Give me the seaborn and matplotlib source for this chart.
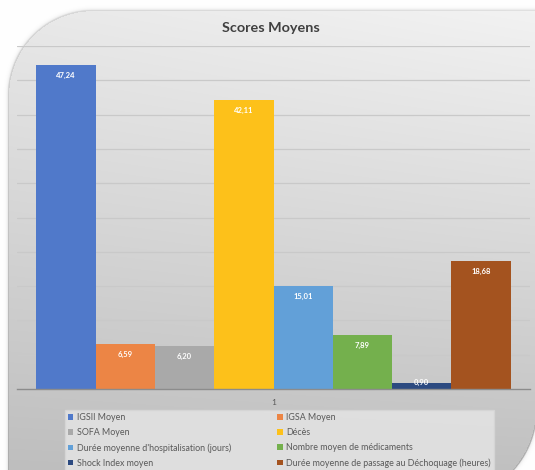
import numpy as np
import pandas as pd
import matplotlib
matplotlib.use("Agg")
import matplotlib.pyplot as plt
import seaborn as sns

series = [
    "IGSII Moyen",
    "IGSA Moyen",
    "SOFA Moyen",
    "Décès",
    "Durée moyenne d'hospitalisation (jours)",
    "Nombre moyen de médicaments",
    "Shock Index moyen",
    "Durée moyenne de passage au Déchoquage (heures)",
]
values = [47.24, 6.59, 6.20, 42.11, 15.01, 7.89, 0.90, 18.68]
labels = ["47,24", "6,59", "6,20", "42,11", "15,01", "7,89", "0,90", "18,68"]
category = ["1"] * len(series)
colors = ["#5079ca", "#ec8545", "#a9a9a9", "#fdc11a",
          "#62a0d8", "#74b04d", "#2c4a80", "#a4531f"]

df = pd.DataFrame({"cat": category, "serie": series, "val": values})

sns.set_theme(style="white")
plt.rcParams["font.family"] = ["Lato", "DejaVu Sans"]

W, H = 535, 470
fig = plt.figure(figsize=(W / 100, H / 100), dpi=100)
fig.patch.set_facecolor("white")

# Background panel: grey gradient, rounded top-left and bottom-right corners,
# thin edge and soft outer shadow
yy, xx = np.mgrid[0:H, 0:W].astype(float) + 0.5
left, top, right = 8.0, 10.0, 537.0
r1, r2 = 85.0, 90.0
cx1, cy1 = left + r1, top + r1
cx2, cy2 = right - r2, 410.0
sd = np.minimum.reduce([xx - left, yy - top, right - xx, (cy2 + r2) - yy])
tl = (xx < cx1) & (yy < cy1)
br = (xx > cx2) & (yy > cy2)
sd = np.where(tl, r1 - np.hypot(xx - cx1, yy - cy1), sd)
sd = np.where(br, r2 - np.hypot(xx - cx2, yy - cy2), sd)

grad = 0.955 - 0.17 * (yy / H) - 0.04 * (1 - xx / W) - 0.03 * (xx / W) * (yy / H)
inside = np.where(sd < 1.2, grad - 0.07, grad)
outside = 1 - 0.10 * np.exp(np.minimum(sd, 0) / 1.5)
t = np.clip(sd + 0.5, 0, 1)
shade = t * inside + (1 - t) * outside
rgb = np.dstack([shade, shade, shade])
fig.figimage(rgb, xo=0, yo=0, origin="upper", zorder=-10)

# Plot area
ax_l, ax_r = 17, 530
ax_b, ax_t = 389, 46
ax = fig.add_axes([ax_l / W, (H - ax_b) / H, (ax_r - ax_l) / W, (ax_b - ax_t) / H])
ax.set_facecolor("none")

sns.barplot(data=df, x="cat", y="val", hue="serie", hue_order=series,
            palette=colors, width=0.924, saturation=1, ax=ax,
            edgecolor="none", legend=True)

ax.set_ylim(0, 50)
ax.set_xlim(-0.5, 0.5)
ax.set_yticks(np.arange(0, 51, 5))
ax.yaxis.grid(True, color="#c9c9c9", linewidth=0.9)
ax.set_axisbelow(True)
ax.tick_params(axis="y", left=False, labelleft=False)
ax.tick_params(axis="x", bottom=False, labelsize=6, labelcolor="#595959", pad=1.5)
ax.set_xlabel("")
ax.set_ylabel("")
for s in ["top", "right", "left"]:
    ax.spines[s].set_visible(False)
ax.spines["bottom"].set_color("#8c8c8c")
ax.spines["bottom"].set_linewidth(1.0)

for cont, lab, v in zip(ax.containers, labels, values):
    pad = -2 if v < 3 else -10
    ax.bar_label(cont, labels=[lab], padding=pad, color="white",
                 fontsize=5.5, fontweight="bold", label_type="edge")

# Legend in two columns, row-wise ordering
handles, _ = ax.get_legend_handles_labels()
ax.get_legend().remove()
order = [0, 2, 4, 6, 1, 3, 5, 7]
leg = fig.legend([handles[i] for i in order], [series[i] for i in order],
                 loc="upper left",
                 bbox_to_anchor=(65 / W, 1 - 410 / H, (494 - 65) / W, 0),
                 mode="expand", ncol=2, fontsize=6.4, frameon=True,
                 handlelength=0.6, handleheight=0.6, handletextpad=0.4,
                 labelspacing=0.68, borderpad=0.35, borderaxespad=0,
                 fancybox=False)
leg.get_frame().set_facecolor("#e2e2e2")
leg.get_frame().set_edgecolor("#d6d6d6")
leg.get_frame().set_alpha(0.9)
for t in leg.get_texts():
    t.set_color("#595959")

fig.text(271 / W, 1 - 28 / H, "Scores Moyens", ha="center", va="center",
         fontsize=10.4, fontweight="bold", color="#404040")

fig.savefig("out.png", dpi=100)
